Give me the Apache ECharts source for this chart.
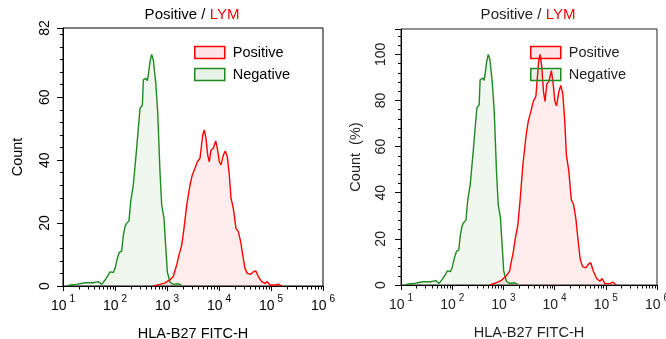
<!DOCTYPE html>
<html>
<head>
<meta charset="utf-8">
<script src="https://cdn.jsdelivr.net/npm/echarts@6/dist/echarts.min.js"></script>
<style>
html, body { margin: 0; padding: 0; background: #fff; }
#chart { width: 666px; height: 339px; }
</style>
</head>
<body>
<div id="chart"></div>
<script>
// Negative 荧光强度 / 计数
var negX = [12, 13.6, 18.3, 26.5, 38.3, 47.8, 55.5, 64.3, 74.5, 80.2, 92.9, 100, 111, 121, 134, 145, 156, 167, 186, 200,
    225, 254, 281, 303, 336, 351, 394, 419, 438, 471, 507, 546, 605, 662, 733, 791, 875, 942, 1014, 1143,
    1321, 1652, 1914];
var negCount = [0, 0.3, 0.5, 1.05, 1.05, 1.4, 0.5, 1.9, 3.5, 4.5, 4.3, 5.6, 8.8, 10.7, 11.1, 16.2, 18.9, 19.9, 20.7, 26.8,
    32.1, 41.6, 50.1, 56.5, 57.5, 65.5, 66, 65.3, 67.1, 71.3, 73.6, 71.8, 64.9, 55.4, 36.3, 25.7, 21.5, 13.0, 4.5, 1.2,
    0.5, 0.7, 0.2];
// Positive 荧光强度 / 计数
var posX = [546, 733, 916, 1143, 1321, 1426, 1538, 1702, 1919, 2123, 2393, 2768, 3069, 3453, 3828, 4315, 4864, 5214, 5623, 6067,
    6501, 7015, 7762, 8650, 9268, 10140, 10920, 12100, 13220, 14450, 15780, 17020, 18850, 21240, 23500, 26120, 28570, 31620, 35000, 40740,
    45710, 50820, 57020, 66220, 76740, 84920, 95720, 119400, 138000, 160700];
var posCount = [0, 0.5, 1.0, 2.0, 3.0, 5.0, 6.7, 9.9, 13, 18.3, 25.7, 32.1, 35.3, 37.4, 39.5, 40.6, 48, 49.6, 46.9, 41.6,
    39.5, 43.2, 43.8, 46.1, 43.8, 39.5, 38.5, 41.6, 42.9, 41.1, 35.3, 27.9, 24.7, 18.3, 17.3, 14.1, 9.9, 5.6, 4.0, 3.7,
    4.5, 4.8, 3.0, 1.4, 0.8, 1.4, 0.3, 0.3, 0.6, 0];

var leftYLabels = [0, 20, 40, 60, 82];
var rightYLabels = [0, 20, 40, 60, 80, 100];
var rightYTicks = [0, 20, 40, 60, 80, 100, 111];
var decades = [10, 100, 1000, 10000, 100000, 1000000];

var font = 'Liberation Sans';
var red = '#ff0000';
var green = '#1f8a1f';
var redFill = 'rgba(255,0,0,0.10)';
var greenFill = 'rgba(31,138,31,0.10)';

//对数轴次刻度 2..9
var minorTicks = [];
for (var i = 0; i < decades.length - 1; i++) {
    for (var k = 2; k <= 9; k++) minorTicks.push([k * decades[i], 0]);
}

function pairs(xs, ys) {
    return xs.map(function (x, i) { return [x, ys[i]]; });
}
//换算成百分比
function percent(xs, ys) {
    var max = Math.max.apply(null, ys);
    return xs.map(function (x, i) { return [x, ys[i] / max * 100]; });
}

function minorTickItem(params, api) {
    var p = api.coord([api.value(0), api.value(1)]);
    var x = Math.round(p[0]) + 0.5;
    var y = Math.round(p[1]) + 0.5;
    return { type: 'line', shape: { x1: x, y1: y, x2: x, y2: y + 3 }, style: { stroke: '#000', lineWidth: 1 } };
}

function xAxisOpt(gridIndex, color) {
    return {
        type: 'log', logBase: 10, gridIndex: gridIndex, min: 10, max: 1000000,
        name: 'HLA-B27 FITC-H', nameLocation: 'middle', nameGap: 40,
        nameTextStyle: { fontFamily: font, fontSize: 14.5, color: color },
        axisLine: { lineStyle: { color: '#000', width: 1 } },
        axisTick: { length: 5, lineStyle: { color: '#000' } },
        splitLine: { show: false },
        axisLabel: {
            margin: 8,
            formatter: function (v) { return '{b|10}{s|' + Math.round(Math.log10(v)) + '}'; },
            rich: {
                b: { fontFamily: font, fontSize: 14, color: color, lineHeight: 19, verticalAlign: 'bottom' },
                s: { fontFamily: font, fontSize: 10, color: color, lineHeight: 11, verticalAlign: 'top', padding: [0, 0, 0, 3] }
            }
        }
    };
}

function yAxisOpt(gridIndex, max, labels, ticks, name, color, margin) {
    return {
        type: 'value', gridIndex: gridIndex, position: 'left', min: 0, max: max, interval: 20,
        name: name, nameLocation: 'middle', nameGap: 38,
        nameTextStyle: { fontFamily: font, fontSize: 14.5, color: color },
        axisLine: { show: true, lineStyle: { color: '#000', width: 1 } },
        axisTick: { show: true, length: 6, customValues: ticks, lineStyle: { color: '#000' } },
        splitLine: { show: false },
        axisLabel: { customValues: labels, rotate: 90, margin: margin, fontFamily: font, fontSize: 14, color: color }
    };
}

function yMinorOpt(gridIndex, max) {
    return {
        type: 'value', gridIndex: gridIndex, position: 'left', min: 0, max: max, interval: 4,
        axisLine: { show: false },
        axisTick: { show: true, length: 3, lineStyle: { color: '#000' } },
        axisLabel: { show: false },
        splitLine: { show: false }
    };
}

function legendOpt(left, color) {
    return {
        left: left, top: 45, orient: 'vertical', padding: 0,
        itemWidth: 30, itemHeight: 12, itemGap: 7, selectedMode: false,
        textStyle: { fontFamily: font, fontSize: 14.5, color: color, padding: [0, 0, 0, 3] },
        data: [
            { name: 'Positive', icon: 'rect', itemStyle: { color: redFill, borderColor: red, borderWidth: 1.5 } },
            { name: 'Negative', icon: 'rect', itemStyle: { color: greenFill, borderColor: green, borderWidth: 1.5 } }
        ]
    };
}

function titleOpt(center, color) {
    return {
        text: '{a|Positive / }{b|LYM}', left: center, top: 7, textAlign: 'center', padding: 0,
        textStyle: {
            fontWeight: 'normal',
            rich: {
                a: { fontFamily: font, fontSize: 15, fontWeight: 'normal', color: color },
                b: { fontFamily: font, fontSize: 15, fontWeight: 'normal', color: red }
            }
        }
    };
}

function histSeries(name, xIdx, yIdx, data, line, fill) {
    return {
        type: 'line', name: name, xAxisIndex: xIdx, yAxisIndex: yIdx, data: data,
        symbol: 'none', silent: true,
        lineStyle: { color: line, width: 1.4 },
        itemStyle: { color: line },
        areaStyle: { color: fill }
    };
}

var chart = echarts.init(document.getElementById('chart'));
var option = {
    animation: false,
    backgroundColor: '#fff',
    title: [titleOpt(192, '#000'), titleOpt(528, '#222')],
    legend: [legendOpt(194, '#000'), legendOpt(530, '#222')],
    grid: [
        { left: 63, top: 28, width: 260, height: 258, show: true, borderColor: '#000', borderWidth: 1, outerBoundsMode: 'none' },
        { left: 401, top: 29, width: 256, height: 256, show: true, borderColor: '#222', borderWidth: 1, outerBoundsMode: 'none' }
    ],
    xAxis: [xAxisOpt(0, '#000'), xAxisOpt(1, '#222')],
    yAxis: [
        yAxisOpt(0, 82, leftYLabels, leftYLabels, 'Count', '#000', 11),
        yMinorOpt(0, 82),
        yAxisOpt(1, 111, rightYLabels, rightYTicks, 'Count  (%)', '#222', 13),
        yMinorOpt(1, 111)
    ],
    series: [
        histSeries('Negative', 0, 0, pairs(negX, negCount), green, greenFill),
        histSeries('Positive', 0, 0, pairs(posX, posCount), red, redFill),
        histSeries('Negative', 1, 2, percent(negX, negCount), green, greenFill),
        histSeries('Positive', 1, 2, percent(posX, posCount), red, redFill),
        { type: 'custom', xAxisIndex: 0, yAxisIndex: 0, data: minorTicks, renderItem: minorTickItem, silent: true, clip: false },
        { type: 'custom', xAxisIndex: 1, yAxisIndex: 2, data: minorTicks, renderItem: minorTickItem, silent: true, clip: false }
    ]
};
chart.setOption(option);
</script>
</body>
</html>
